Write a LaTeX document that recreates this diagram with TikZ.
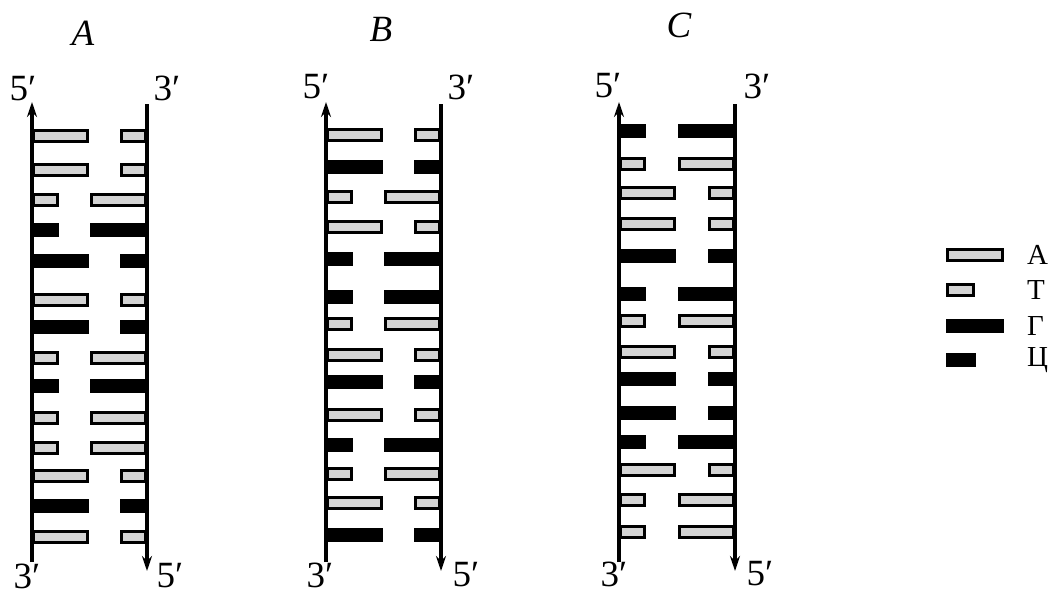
\documentclass[tikz,border=0pt]{standalone}
\usepackage{fontspec}
\setmainfont{Liberation Serif}
\usetikzlibrary{arrows.meta}
\definecolor{basegray}{HTML}{D4D4D4}
\begin{document}
\begin{tikzpicture}[x=1pt,y=-1pt,
  strand/.style={line width=3.2pt},
  uptip/.style={-{Stealth[length=15pt,width=10pt]}},
  rung/.style={draw=black,line width=2.6pt,inner sep=0pt,minimum height=11.4pt},
  lng/.style={minimum width=54.4pt},
  sht/.style={minimum width=24.4pt},
  gry/.style={fill=basegray},
  blk/.style={fill=black},
  lAT/.style={gry,lng}, rAT/.style={gry,sht},
  lTA/.style={gry,sht}, rTA/.style={gry,lng},
  lGC/.style={blk,lng}, rGC/.style={blk,sht},
  lCG/.style={blk,sht}, rCG/.style={blk,lng},
  endlab/.style={font=\fontsize{37}{39}\selectfont,inner sep=0pt},
  title/.style={font=\fontsize{37}{39}\selectfont\itshape,inner sep=0pt},
  leglab/.style={font=\fontsize{29}{31}\selectfont,inner sep=0pt,anchor=west}]
\useasboundingbox (0,0) rectangle (1056,594);
% rungs
\foreach \p/\L/\R/\rows in {
  A/32/147/{136/AT,170/AT,200/TA,230/CG,261/GC,300/AT,327/GC,358/TA,386/CG,418/TA,448/TA,476/AT,506/GC,537/AT},
  B/326/441/{135/AT,167/GC,197/TA,227/AT,259/CG,297/CG,324/TA,355/AT,382/GC,415/AT,445/CG,474/TA,503/AT,535/GC},
  C/619/735/{131/CG,164/TA,193/AT,224/AT,256/GC,294/CG,321/TA,352/AT,379/GC,413/GC,442/CG,470/AT,500/TA,532/TA}}{
  \foreach \y/\t [count=\i] in \rows {
    \node[rung,l\t,anchor=west] (\p\i l) at (\L,\y) {};
    \node[rung,r\t,anchor=east] (\p\i r) at (\R,\y) {};
  }
  \coordinate (\p lt) at (\L,102);
  \coordinate (\p lb) at (\L,562);
  \coordinate (\p rt) at (\R,104);
  \coordinate (\p rb) at (\R,571);
  \draw[strand,uptip] (\p lb) -- (\p lt);
  \draw[strand,uptip] (\p rt) -- (\p rb);
}
% titles
\node[title] (tA) at (83,33) {A};
\node[title] (tB) at (381,29) {B};
\node[title] (tC) at (679,25) {C};
% end labels
\node[endlab] (A5t) at (23,89) {5′};
\node[endlab] (A3t) at (167,88) {3′};
\node[endlab] (A3b) at (27,576) {3′};
\node[endlab] (A5b) at (170,576) {5′};
\node[endlab] (B5t) at (316,87) {5′};
\node[endlab] (B3t) at (461,87) {3′};
\node[endlab] (B3b) at (320,575) {3′};
\node[endlab] (B5b) at (466,575) {5′};
\node[endlab] (C5t) at (608,86) {5′};
\node[endlab] (C3t) at (757,86) {3′};
\node[endlab] (C3b) at (614,574) {3′};
\node[endlab] (C5b) at (760,574) {5′};
% legend
\node[rung,gry,minimum width=55pt,anchor=west] (kA) at (946,255) {};
\node[rung,gry,minimum width=26pt,anchor=west] (kT) at (946,290) {};
\node[rung,blk,minimum width=55pt,anchor=west] (kG) at (946,326) {};
\node[rung,blk,minimum width=27pt,anchor=west] (kC) at (946,360) {};
\node[leglab] (lA) at (1027,255) {А};
\node[leglab] (lT) at (1027,290) {Т};
\node[leglab] (lG) at (1027,326) {Г};
\node[leglab] (lC) at (1027,360) {Ц};
\end{tikzpicture}
\end{document}
